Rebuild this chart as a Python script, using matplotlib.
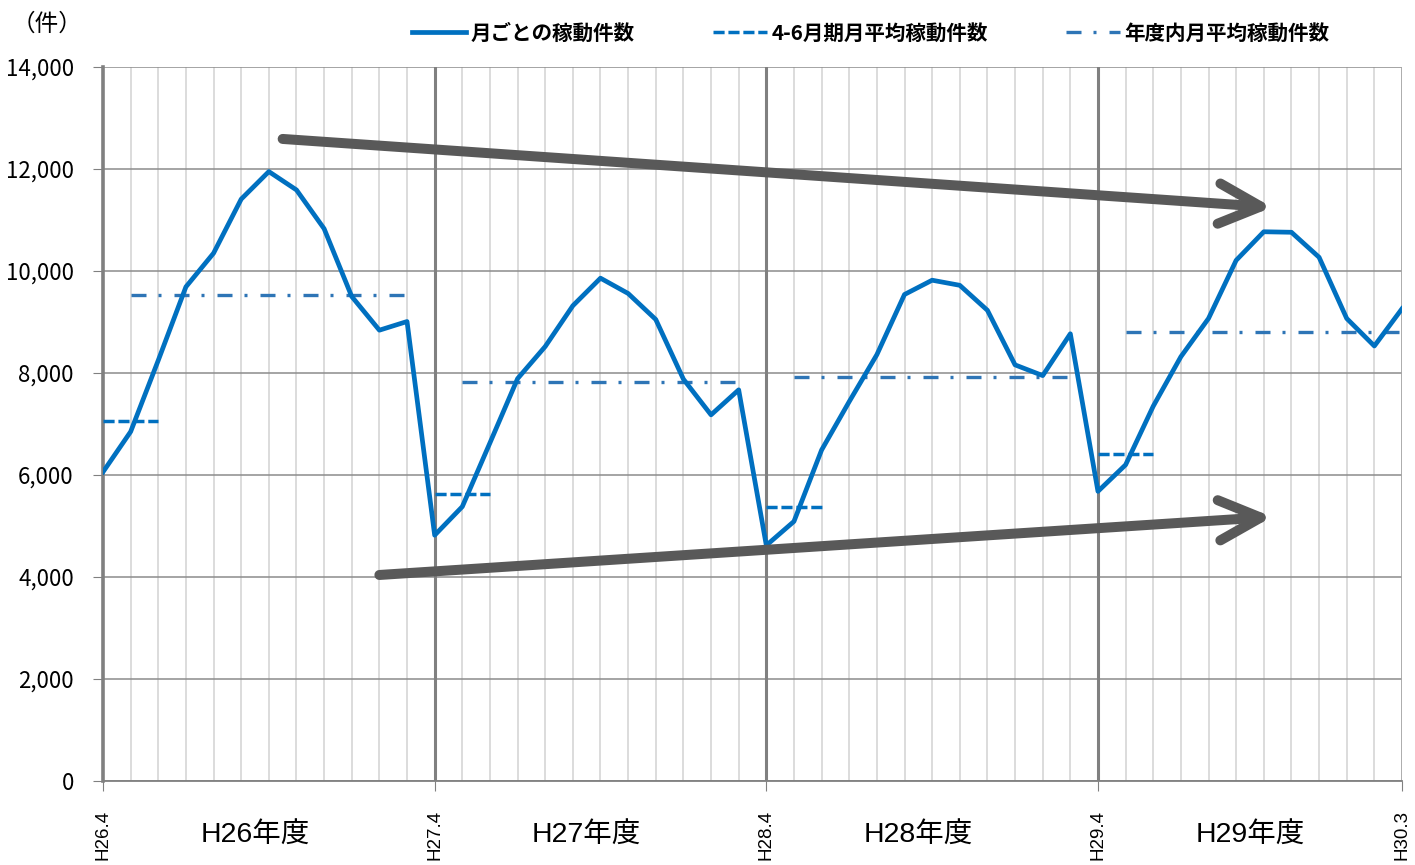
import matplotlib.pyplot as plt
from matplotlib.ticker import FuncFormatter, MultipleLocator

plt.rcParams['font.family'] = ['Noto Sans CJK JP', 'DejaVu Sans']

# monthly operating counts, H26.4 .. H30.3
monthly = [6060, 6850, 8250, 9690, 10350, 11410, 11950, 11590, 10830, 9500, 8840, 9010,
           4820, 5380, 6630, 7890, 8520, 9320, 9860, 9560, 9050, 7880, 7180, 7670,
           4620, 5090, 6490, 7440, 8360, 9540, 9820, 9720, 9230, 8160, 7950, 8770,
           5680, 6200, 7350, 8320, 9070, 10210, 10770, 10760, 10270, 9070, 8530, 9260]

years = ['H26年度', 'H27年度', 'H28年度', 'H29年度']
q1_avg = [7060, 5630, 5380, 6410]       # Apr-Jun monthly average
year_avg = [9530, 7820, 7930, 8800]     # monthly average within the year

tick_pos = [0, 12, 24, 36, 47]
tick_labels = ['H26.4', 'H27.4', 'H28.4', 'H29.4', 'H30.3']

# trend arrows: (start month, start value, end month, end value)
upper_trend = (6.5, 12590, 42.3, 11250)
lower_trend = (10.0, 4040, 42.3, 5180)

blue = '#0070C0'
blue2 = '#2E75B6'
grey = '#595959'
latin_jp = ['Liberation Sans', 'Noto Sans CJK JP']

fig = plt.figure(figsize=(14.15, 8.65), dpi=100)
ax = fig.add_axes([0.0728, 0.0971, 0.9180, 0.8254])

months = list(range(len(monthly)))
ax.plot(months, monthly, color=blue, lw=3.4, label='月ごとの稼動件数', zorder=4)

for i in range(len(years)):
    s = i * 12
    ax.plot([s, s + 2], [q1_avg[i]] * 2, color=blue, lw=2.5,
            linestyle=(0, (3.2, 1.1)), zorder=3,
            label='4-6月期月平均稼動件数' if i == 0 else None)
    ax.plot([s + 1, s + 11], [year_avg[i]] * 2, color=blue2, lw=2.4,
            linestyle=(0, (4.5, 3.6, 0.9, 3.9)), zorder=3,
            label='年度内月平均稼動件数' if i == 0 else None)
    ax.text(s + 5.5, -0.077, years[i], transform=ax.get_xaxis_transform(),
            ha='center', va='center', fontsize=20.5, family=latin_jp)

for x0, y0, x1, y1 in (upper_trend, lower_trend):
    ax.annotate('', xy=(x1, y1), xytext=(x0, y0),
                arrowprops=dict(arrowstyle='->,head_length=3.0,head_width=1.45',
                                mutation_scale=10, lw=7.2, color=grey,
                                shrinkA=0, shrinkB=0, capstyle='round',
                                joinstyle='round'),
                zorder=5)

ax.set_xlim(0, 47)
ax.set_ylim(0, 14000)
ax.set_xticks(tick_pos)
ax.set_xticklabels(tick_labels, rotation=90, fontsize=13.5, family='Liberation Sans')
ax.xaxis.set_minor_locator(MultipleLocator(1))
ax.tick_params(axis='x', which='major', length=7, color='#808080', pad=14)
ax.tick_params(axis='x', which='minor', length=0)
ax.set_yticks(range(0, 14001, 2000))
ax.yaxis.set_major_formatter(FuncFormatter(lambda v, p: f'{int(v):,}'))
ax.tick_params(axis='y', length=7, color='#808080', labelsize=16, pad=14)

ax.grid(axis='x', which='minor', color='#d9d9d9', lw=1.3)
ax.grid(axis='y', which='major', color='#8c8c8c', lw=1.1)
for s in [12, 24, 36]:
    ax.axvline(s, color='#808080', lw=2.2, zorder=1)
ax.axvline(47, color='#a6a6a6', lw=1.3, zorder=1)
ax.set_axisbelow(True)

for side in ['top', 'right']:
    ax.spines[side].set_visible(False)
ax.spines['left'].set_color('#808080')
ax.spines['left'].set_linewidth(2.6)
ax.spines['bottom'].set_color('#808080')
ax.spines['bottom'].set_linewidth(1.3)

fig.legend(loc='center left', bbox_to_anchor=(0.278, 0.962), ncol=3, frameon=False,
           prop={'size': 14.8, 'weight': 'bold'},
           handlelength=2.65, handletextpad=0.2, columnspacing=3.8)
fig.text(0.033, 0.972, '（件）', ha='center', va='center', fontsize=17)

fig.savefig('out.png', dpi=100)
